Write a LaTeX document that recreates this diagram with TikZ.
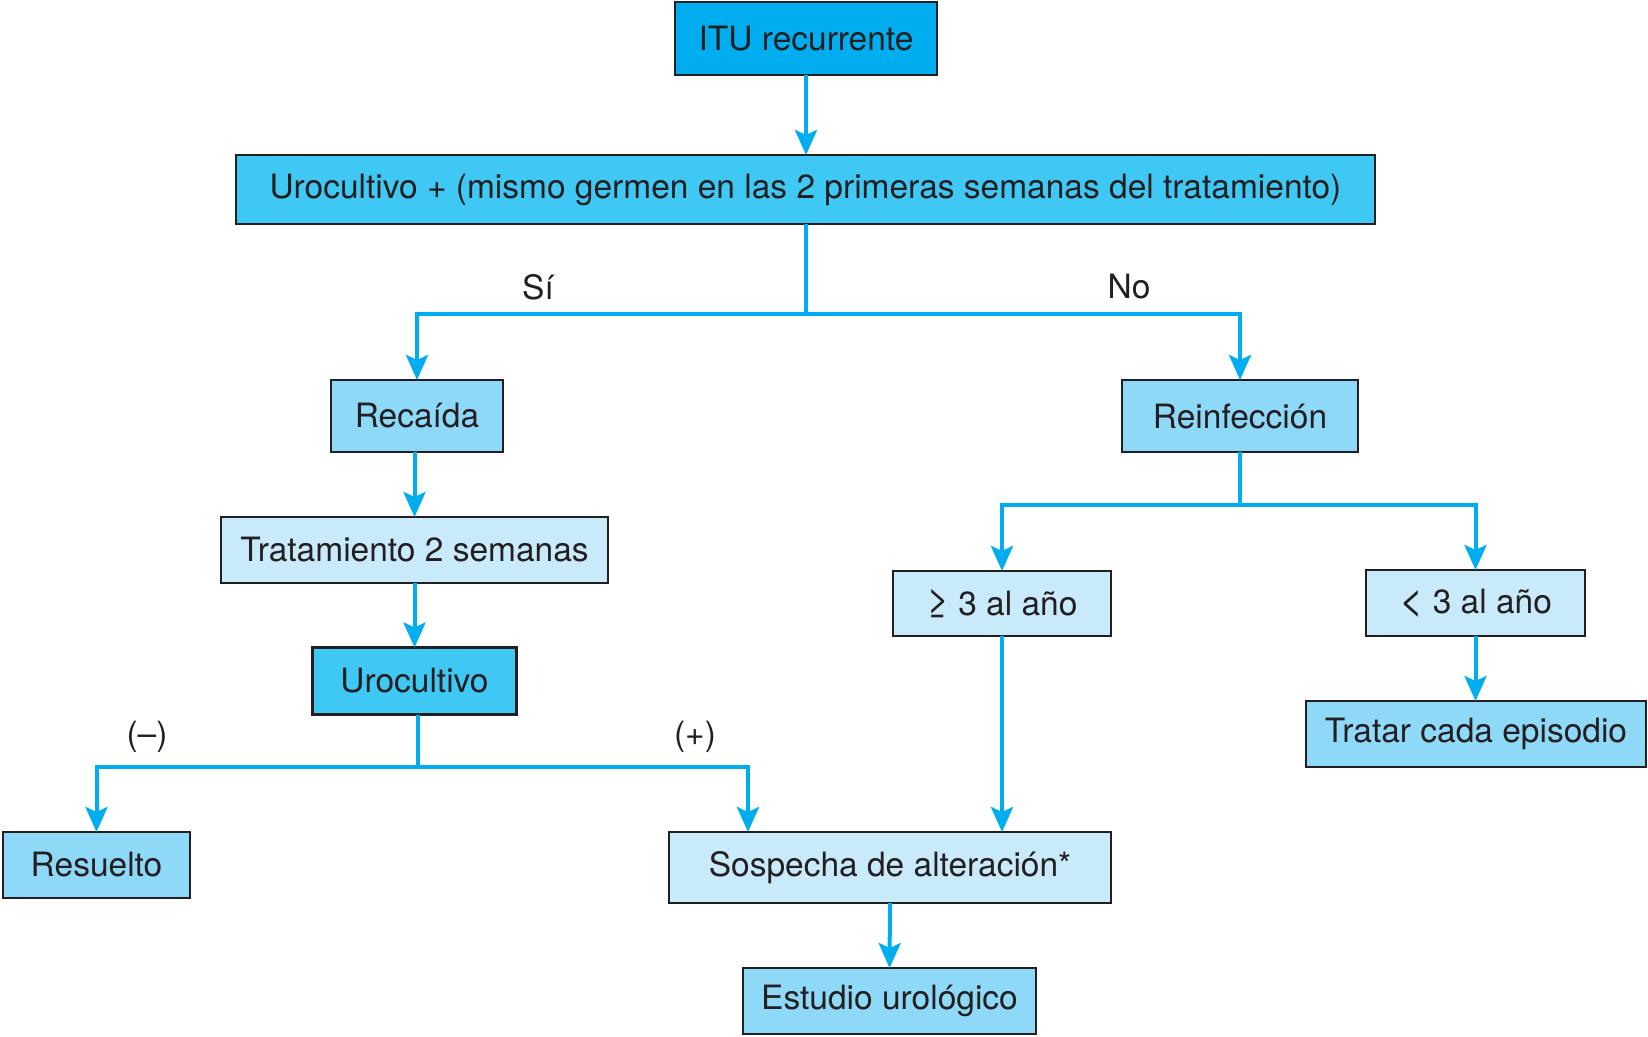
\documentclass[tikz,border=0pt]{standalone}
\usepackage{fontspec}
\setmainfont{TeX Gyre Heros}
\usetikzlibrary{arrows.meta}
\definecolor{cDark}{HTML}{00AEEF}
\definecolor{cMid}{HTML}{40C8F4}
\definecolor{cLight}{HTML}{8ED8F8}
\definecolor{cPale}{HTML}{C8EAFB}
\definecolor{cLine}{HTML}{00AEEF}
\definecolor{cText}{HTML}{231F20}
\newcommand{\lessglyph}{\raisebox{-0.5pt}{\scalebox{1.25}{<}}}
\newcommand{\geqglyph}{\raisebox{-0.5pt}{\scalebox{1.15}{≥}}}
\begin{document}
\begin{tikzpicture}[x=1pt,y=-1pt,
  box/.style={draw=cText, line width=2.4pt, inner sep=0pt, outer sep=0pt,
    font=\fontsize{33.5}{40}\selectfont, text=cText},
  trunk/.style={draw=cLine, line width=4pt},
  conn/.style={draw=cLine, line width=4pt, -{Stealth[length=25pt,width=22pt,inset=5pt]}},
  lbl/.style={font=\fontsize{33.5}{40}\selectfont, text=cText, inner sep=0pt}]
\useasboundingbox (0,0) rectangle (1648,1036);

% boxes
\node[box, fill=cDark,  minimum width=262pt, minimum height=73pt] (itu) at (806,38.5) {ITU recurrente};
\node[box, fill=cMid,   minimum width=1139pt, minimum height=69pt] (uro1) at (805.5,189.5) {Urocultivo + (mismo germen en las 2 primeras semanas del tratamiento)};
\node[box, fill=cLight, minimum width=172pt, minimum height=72pt] (recaida) at (417,416) {Recaída};
\node[box, fill=cLight, minimum width=236pt, minimum height=72pt] (reinf) at (1240,416) {Reinfección};
\node[box, fill=cPale,  minimum width=387pt, minimum height=66pt] (trat) at (414.5,550) {Tratamiento 2 semanas};
\node[box, fill=cMid,   minimum width=204pt, minimum height=67pt] (uro2) at (414.5,681) {Urocultivo};
\node[box, fill=cLight, minimum width=187pt, minimum height=66pt] (resuelto) at (96.5,865) {Resuelto};
\node[box, fill=cPale,  minimum width=442pt, minimum height=71pt] (sosp) at (890,867.5) {Sospecha de alteración*};
\node[box, fill=cLight, minimum width=293pt, minimum height=66pt] (estudio) at (889.5,1001) {Estudio urológico};
\node[box, fill=cPale,  minimum width=218pt, minimum height=65pt] (ge3) at (1002,603.5) {\geqglyph{} 3 al año};
\node[box, fill=cPale,  minimum width=219pt, minimum height=66pt] (lt3) at (1475.5,603) {\lessglyph{} 3 al año};
\node[box, fill=cLight, minimum width=340pt, minimum height=66pt] (tratar) at (1476,734) {Tratar cada episodio};

% labels
\node[lbl] (si) at (538,287) {Sí};
\node[lbl] (no) at (1129,287) {No};
\node[lbl] (neg) at (147,737) {(–)};
\node[lbl] (pos) at (695,737) {(+)};

% junction coordinates
\coordinate (j1) at (806,314);
\coordinate (j2) at (1240,505);
\coordinate (j3) at (418,767);
\coordinate (px) at (748,0);

% connectors
\draw[conn] (itu.south) -- (uro1.north -| itu.south);
\draw[trunk] (uro1.south -| j1) -- (j1);
\draw[conn] (j1) -| (recaida.north);
\draw[conn] (j1) -| (reinf.north);
\draw[conn] (trat.north |- recaida.south) -- (trat.north);
\draw[conn] (trat.south) -- (uro2.north);
\draw[trunk] (j3 |- uro2.south) -- (j3);
\draw[conn] (j3) -| (resuelto.north);
\draw[conn] (j3) -| (sosp.north -| px);
\draw[conn] (sosp.south) -- (estudio.north);
\draw[trunk] (reinf.south) -- (j2);
\draw[conn] (j2) -| (ge3.north);
\draw[conn] (j2) -| (lt3.north);
\draw[conn] (ge3.south) -- (ge3.south |- sosp.north);
\draw[conn] (lt3.south) -- (lt3.south |- tratar.north);
\end{tikzpicture}
\end{document}
